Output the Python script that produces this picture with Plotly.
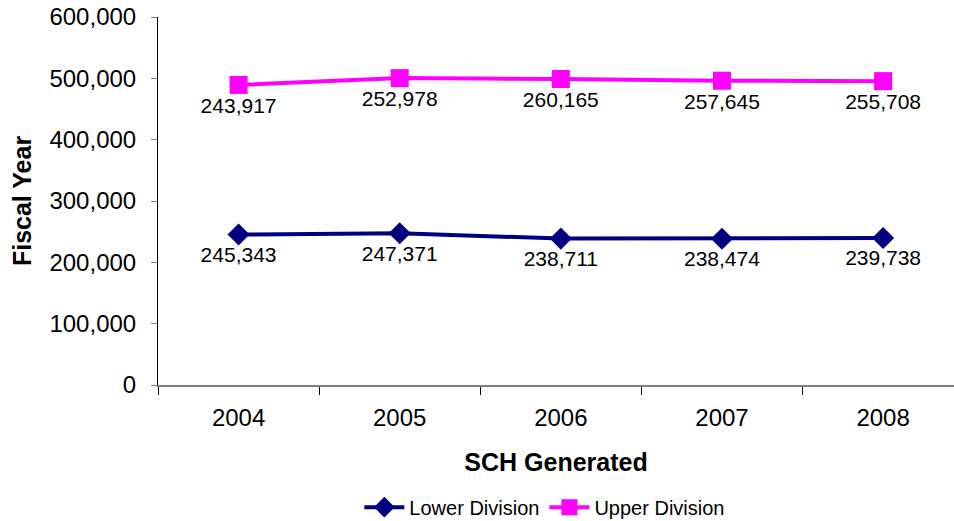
import plotly.graph_objects as go

years = ["2004", "2005", "2006", "2007", "2008"]
lower = [245343, 247371, 238711, 238474, 239738]
upper = [243917, 252978, 260165, 257645, 255708]
upper_stacked = [l + u for l, u in zip(lower, upper)]

navy = "#000080"
magenta = "#FF00FF"
font = "Liberation Sans, Arial, sans-serif"

fig = go.Figure()
fig.add_trace(go.Scatter(
    x=years, y=lower, name="Lower Division", mode="lines+markers+text",
    line=dict(color=navy, width=4),
    marker=dict(symbol="diamond", size=17, color=navy),
    text=[f"{v:,}" for v in lower], textposition="bottom center",
    textfont=dict(size=21, color="black", family=font),
))
fig.add_trace(go.Scatter(
    x=years, y=upper_stacked, name="Upper Division", mode="lines+markers+text",
    line=dict(color=magenta, width=4),
    marker=dict(symbol="square", size=18, color=magenta),
    text=[f"{v:,}" for v in upper], textposition="bottom center",
    textfont=dict(size=21, color="black", family=font),
))

fig.update_layout(
    width=954, height=521,
    margin=dict(l=158, r=0, t=17, b=136, autoexpand=False),
    plot_bgcolor="white", paper_bgcolor="white",
    font=dict(family=font, color="black"),
    showlegend=True,
    legend=dict(orientation="h", x=0.486, xanchor="center", y=-0.332, yanchor="middle",
                font=dict(size=20), itemwidth=40, tracegroupgap=0),
    xaxis=dict(
        type="category", range=[-0.5, 4.44], automargin=False,
        showline=True, linecolor="#808080", linewidth=2,
        ticks="outside", tickson="boundaries", ticklen=8, tickcolor="#000",
        tickfont=dict(size=24), showgrid=False, ticklabelstandoff=10,
        title=dict(text="<b>SCH Generated</b>", font=dict(size=25), standoff=24),
    ),
    yaxis=dict(
        range=[0, 600000], dtick=100000, tickformat=",", automargin=False,
        showline=True, linecolor="#000", linewidth=1,
        ticks="outside", ticklen=6, tickcolor="#808080",
        tickfont=dict(size=24), showgrid=False, zeroline=False, ticklabelstandoff=10,
        title=dict(text="<b>Fiscal Year</b>", font=dict(size=25), standoff=10),
    ),
)

fig.write_html("out.html", config={"displayModeBar": False},
               post_script="document.body.style.margin='0';")
